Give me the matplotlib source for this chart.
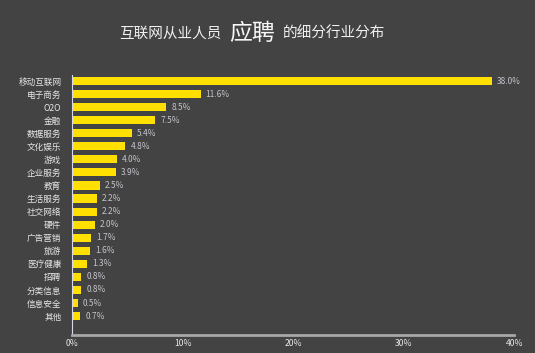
import matplotlib
matplotlib.use('Agg')
import matplotlib.pyplot as plt
from matplotlib.ticker import FuncFormatter

plt.rcParams['font.family'] = ['Noto Sans CJK SC', 'DejaVu Sans']

categories = ['移动互联网', '电子商务', 'O2O', '金融', '数据服务', '文化娱乐', '游戏', '企业服务',
              '教育', '生活服务', '社交网络', '硬件', '广告营销', '旅游', '医疗健康', '招聘',
              '分类信息', '信息安全', '其他']
values = [38.0, 11.6, 8.5, 7.5, 5.4, 4.8, 4.0, 3.9, 2.5, 2.2, 2.2, 2.0, 1.7, 1.6, 1.3, 0.8, 0.8, 0.5, 0.7]
x_ticks = [0, 10, 20, 30, 40]

bg = '#434343'
fig = plt.figure(figsize=(5.35, 3.53), dpi=100, facecolor=bg)
ax = fig.add_axes([0.1355, 0.051, 0.8255, 0.7365], facecolor=bg)

pos = list(range(len(categories)))
ax.barh(pos, values, height=0.62, color='#FFE000')
for p, v in zip(pos, values):
    ax.text(v + 0.45, p, f'{v:.1f}%', va='center', ha='left', fontsize=6, color='#c4c4cc')

ax.set_xlim(0, 40)
ax.set_ylim(19.45, -0.46)
ax.set_yticks(pos)
ax.set_yticklabels(categories, fontsize=6.2, color='#e6e6e6')
ax.set_xticks(x_ticks)
ax.xaxis.set_major_formatter(FuncFormatter(lambda x, _: f'{x:.0f}%'))
ax.tick_params(axis='x', labelsize=6.2, labelcolor='#e6e6e6', length=0, pad=3)
ax.tick_params(axis='y', length=0, pad=8)

for s in ['top', 'right']:
    ax.spines[s].set_visible(False)
ax.spines['left'].set_color('#d8d8e8')
ax.spines['left'].set_linewidth(0.8)
ax.spines['bottom'].set_color('#a8a8a8')
ax.spines['bottom'].set_linewidth(2)

# title in three pieces
fig.text(0.415, 0.905, '互联网从业人员', fontsize=10.5, color='#f0f0f0', ha='right', va='center')
fig.text(0.4285, 0.905, '应聘', fontsize=16.5, color='#f8f8f8', ha='left', va='center')
fig.text(0.528, 0.905, '的细分行业分布', fontsize=10.5, color='#f0f0f0', ha='left', va='center')

fig.savefig('out.png', dpi=100, facecolor=bg)
